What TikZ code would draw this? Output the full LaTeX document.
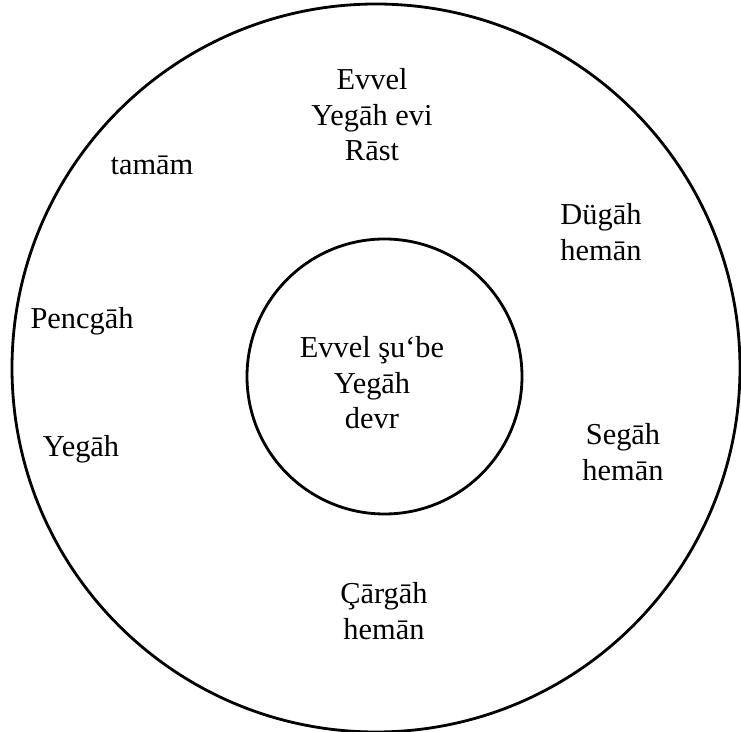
\documentclass[tikz,border=0pt]{standalone}
\usepackage{fontspec}
\setmainfont{Liberation Serif}
\usepackage{tikz}

\begin{document}
\begin{tikzpicture}[
  x=0.02cm, y=-0.02cm,
  ring/.style={draw=black,line width=1.6pt},
  lbl/.style={align=center,inner sep=0pt,font=\fontsize{17.3}{20.2}\selectfont}
]
\useasboundingbox (0,0) rectangle (741,732);

\coordinate (outerc) at (376,368);
\coordinate (innerc) at (384.5,376.5);
\draw[ring] (outerc) circle[radius=364];
\draw[ring] (innerc) circle[radius=137.5];

\node[lbl] (evvel) at (372,115) {Evvel\\Yegāh evi\\Rāst};
\node[lbl] (tamam) at (152,165) {tamām};
\node[lbl] (dugah) at (601,232) {Dügāh\\hemān};
\node[lbl] (pencgah) at (82,321) {Pencgāh};
\node[lbl] (sube) at (372,383) {Evvel şu‘be\\Yegāh\\devr};
\node[lbl] (yegah) at (81,449) {Yegāh};
\node[lbl] (segah) at (623,452) {Segāh\\hemān};
\node[lbl] (cargah) at (384,611) {Çārgāh\\hemān};
\end{tikzpicture}
\end{document}
